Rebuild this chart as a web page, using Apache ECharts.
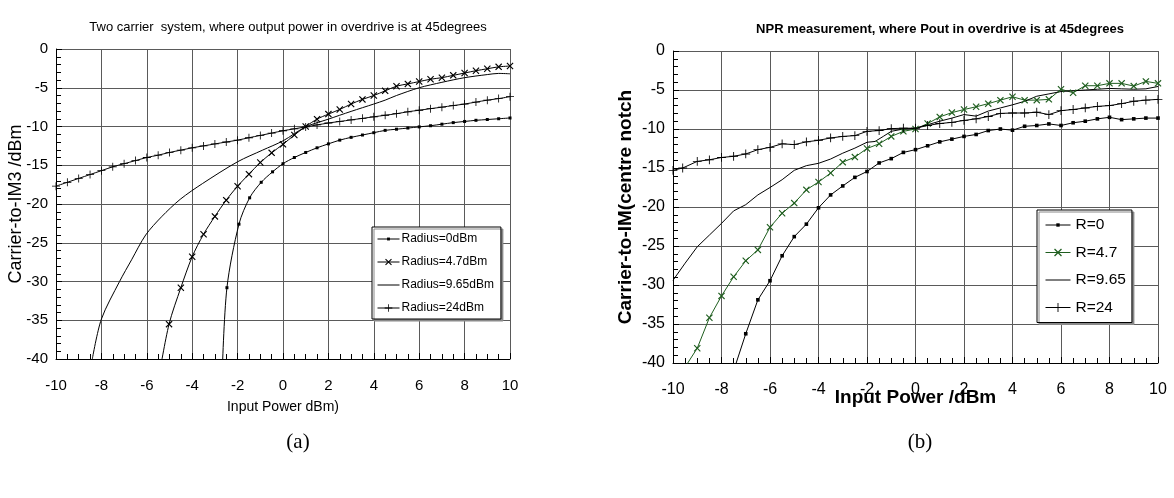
<!DOCTYPE html>
<html>
<head>
<meta charset="utf-8">
<script src="https://cdn.jsdelivr.net/npm/echarts@6/dist/echarts.min.js"></script>
<style>
html,body{margin:0;padding:0;background:#fff;}
#c{width:1174px;height:498px;}
</style>
</head>
<body>
<div id="c"></div>
<script>
// ---------- Chart (a): Two carrier system ----------
const titleA = 'Two carrier  system, where output power in overdrive is at 45degrees';
const xNameA = 'Input Power dBm)';
const yNameA = 'Carrier-to-IM3 /dBm';
const namesA = ['Radius=0dBm', 'Radius=4.7dBm', 'Radius=9.65dBm', 'Radius=24dBm'];

const a0x = [-2.68, -2.47, -1.94, -1.47, -0.96, -0.46, 0, 0.5, 1, 1.5, 2, 2.5, 3, 3.5, 4, 4.5, 5, 5.5, 6, 6.5, 7, 7.5, 8, 8.5, 9, 9.5, 10];
const a0y = [-42, -30.8, -22.6, -19.2, -17.2, -15.85, -14.8, -14.0, -13.35, -12.75, -12.24, -11.76, -11.4, -11.1, -10.8, -10.5, -10.35, -10.2, -10.05, -9.9, -9.7, -9.5, -9.35, -9.2, -9.1, -9.0, -8.9];

const a47x = [-5.45, -5.02, -4.5, -4.0, -3.5, -3.0, -2.5, -2.0, -1.5, -1.0, -0.5, 0, 0.5, 1, 1.5, 2, 2.5, 3, 3.5, 4, 4.5, 5, 5.5, 6, 6.5, 7, 7.5, 8, 8.5, 9, 9.5, 10];
const a47y = [-42, -35.5, -30.8, -26.8, -23.9, -21.6, -19.5, -17.7, -16.15, -14.65, -13.4, -12.3, -11.1, -10.0, -9.05, -8.4, -7.8, -7.1, -6.5, -6.0, -5.4, -4.8, -4.5, -4.2, -3.9, -3.7, -3.4, -3.1, -2.8, -2.55, -2.3, -2.2];

const a965x = [-8.4, -8.0, -7.2, -6.67, -6.05, -5.35, -4.53, -3.54, -2.0, -0.9, 0, 1, 2, 3, 4, 4.5, 5, 6, 7, 8, 9, 9.5, 10];
const a965y = [-40, -34.85, -30, -27.2, -24, -21.65, -19.4, -17.35, -14.55, -13.05, -11.85, -10.05, -9.05, -8.05, -7.1, -6.6, -6.0, -5.0, -4.3, -3.7, -3.3, -3.15, -3.2];

const a24x = [-10, -9.5, -9, -8.5, -8, -7.5, -7, -6.5, -6, -5.5, -5, -4.5, -4, -3.5, -3, -2.5, -2, -1.5, -1, -0.5, 0, 0.5, 1, 1.5, 2, 2.5, 3, 3.5, 4, 4.5, 5, 5.5, 6, 6.5, 7, 7.5, 8, 8.5, 9, 9.5, 10];
const a24y = [-17.7, -17.2, -16.7, -16.2, -15.7, -15.2, -14.8, -14.4, -14.0, -13.7, -13.35, -13.05, -12.75, -12.5, -12.25, -12.0, -11.76, -11.45, -11.15, -10.85, -10.55, -10.3, -10.05, -9.8, -9.55, -9.35, -9.15, -8.95, -8.75, -8.55, -8.35, -8.1, -7.9, -7.7, -7.5, -7.3, -7.1, -6.85, -6.6, -6.4, -6.15];

// ---------- Chart (b): NPR measurement ----------
const titleB = 'NPR measurement, where Pout in overdrive is at 45degrees';
const xNameB = 'Input Power /dBm';
const yNameB = 'Carrier-to-IM(centre notch';
const namesB = ['R=0', 'R=4.7', 'R=9.65', 'R=24'];

const b0x = [-7.5, -7, -6.5, -6, -5.5, -5, -4.5, -4, -3.5, -3, -2.5, -2, -1.5, -1, -0.5, 0, 0.5, 1, 1.5, 2, 2.5, 3, 3.5, 4, 4.5, 5, 5.5, 6, 6.5, 7, 7.5, 8, 8.5, 9, 9.5, 10];
const b0y = [-41, -36.25, -31.9, -29.45, -26.25, -23.8, -22.2, -20.1, -18.45, -17.3, -16.2, -15.45, -14.35, -13.8, -13.0, -12.65, -12.15, -11.65, -11.3, -10.95, -10.7, -10.2, -10.0, -10.15, -9.65, -9.55, -9.35, -9.55, -9.2, -9.0, -8.7, -8.5, -8.8, -8.7, -8.6, -8.6];

const b47x = [-9.6, -9, -8.5, -8, -7.5, -7, -6.5, -6, -5.5, -5, -4.5, -4, -3.5, -3, -2.5, -2, -1.5, -1, -0.5, 0, 0.5, 1, 1.5, 2, 2.5, 3, 3.5, 4, 4.5, 5, 5.5, 6, 6.5, 7, 7.5, 8, 8.5, 9, 9.5, 10];
const b47y = [-41, -38.1, -34.2, -31.4, -28.95, -26.9, -25.5, -22.6, -20.8, -19.5, -17.8, -16.8, -15.65, -14.25, -13.6, -12.5, -11.9, -10.95, -10.3, -10.0, -9.3, -8.45, -7.9, -7.5, -7.15, -6.75, -6.3, -5.87, -6.3, -6.3, -6.2, -4.9, -5.35, -4.45, -4.45, -4.15, -4.15, -4.5, -3.9, -4.15];

const b965x = [-10, -9.5, -9, -8.5, -8, -7.5, -7, -6.5, -6, -5.5, -5, -4.5, -4, -3.5, -3, -2.5, -2, -1.67, -1.33, -1, -0.5, 0, 0.5, 1, 1.5, 2, 2.5, 3, 3.5, 4, 4.5, 5, 5.5, 6, 6.5, 7, 7.5, 8, 8.5, 9, 9.5, 10];
const b965y = [-29.4, -27.2, -25.1, -23.6, -22.1, -20.5, -19.7, -18.45, -17.5, -16.5, -15.3, -14.7, -14.4, -13.85, -13.1, -12.45, -11.7, -11.6, -10.95, -10.3, -10.0, -9.9, -9.45, -9.0, -8.6, -8.15, -8.35, -7.7, -7.3, -6.9, -6.45, -5.8, -5.5, -5.2, -5.1, -5.0, -4.9, -4.8, -4.85, -4.9, -4.85, -4.55];

const b24x = [-10, -9.6, -9, -8.5, -8, -7.5, -7, -6.5, -6, -5.5, -5, -4.5, -4, -3.5, -3, -2.5, -2, -1.5, -1, -0.5, 0, 0.5, 1, 1.5, 2, 2.5, 3, 3.5, 4, 4.5, 5, 5.5, 6, 6.5, 7, 7.5, 8, 8.5, 9, 9.5, 10];
const b24y = [-15.3, -15.0, -14.15, -13.95, -13.65, -13.5, -13.2, -12.65, -12.35, -11.9, -12.0, -11.65, -11.45, -11.15, -10.95, -10.85, -10.3, -10.2, -9.95, -9.9, -9.9, -9.55, -9.3, -9.15, -8.9, -8.7, -8.4, -8.0, -7.95, -7.95, -7.85, -8.15, -7.65, -7.5, -7.3, -7.1, -7.0, -6.75, -6.45, -6.3, -6.2];

const xTicksMin = -10, xTicksMax = 10, xStep = 2;
const yTicksMin = -40, yTicksMax = 0, yStep = 5;

function pairs(xs, ys) { return xs.map((x, i) => [x, ys[i]]); }

// marker shapes (padded so the legend icons stay small)
const SQ_SYM = 'path://M0,0M10,10M3.5,3.5H6.5V6.5H3.5Z';
const X_SYM = 'path://M0,0M10,10M1.5,2.3L2.3,1.5L5,4.2L7.7,1.5L8.5,2.3L5.8,5L8.5,7.7L7.7,8.5L5,5.8L2.3,8.5L1.5,7.7L4.2,5Z';
const P_SYM = 'path://M0,0M10,10M4.6,1H5.4V4.6H9V5.4H5.4V9H4.6V5.4H1V4.6H4.6Z';
const NO_SYM = 'path://M0,0M10,10';

const sans = '"Liberation Sans", Arial, sans-serif';
const serif = '"Liberation Serif", "Times New Roman", serif';

function xAxis(gi, fs, margin, name, nameGap, nameStyle) {
  return {
    type: 'value', gridIndex: gi, min: xTicksMin, max: xTicksMax, interval: xStep,
    name: name, nameLocation: 'middle', nameGap: nameGap, nameTextStyle: nameStyle,
    nameMoveOverlap: false,
    axisLine: { show: true, onZero: false, lineStyle: { color: '#000', width: 1 } },
    axisTick: { show: true, inside: true, length: 6, lineStyle: { color: '#000' } },
    minorTick: { show: true, splitNumber: 4, length: 5, lineStyle: { color: '#000' } },
    axisLabel: { color: '#000', fontSize: fs, fontFamily: sans, margin: margin, formatter: v => String(v) },
    splitLine: { show: true, lineStyle: { color: '#5a5a5a', width: 1 } }
  };
}
function yAxis(gi, fs, name, nameGap, nameStyle) {
  return {
    type: 'value', gridIndex: gi, min: yTicksMin, max: yTicksMax, interval: yStep,
    name: name, nameLocation: 'middle', nameGap: nameGap, nameTextStyle: nameStyle,
    nameMoveOverlap: false,
    axisLine: { show: true, onZero: false, lineStyle: { color: '#000', width: 1 } },
    axisTick: { show: true, inside: true, length: 6, lineStyle: { color: '#000' } },
    minorTick: { show: true, splitNumber: 5, length: 5, lineStyle: { color: '#000' } },
    axisLabel: { color: '#000', fontSize: fs, fontFamily: sans, margin: 8, formatter: v => String(v) },
    splitLine: { show: true, lineStyle: { color: '#5a5a5a', width: 1 } }
  };
}

function lineSeries(name, gi, data, symbol, size, color, smooth) {
  return {
    name: name, type: 'line', xAxisIndex: gi, yAxisIndex: gi, data: data,
    symbol: symbol, symbolSize: size, showSymbol: symbol !== NO_SYM, clip: true,
    symbolKeepAspect: true,
    smooth: smooth,
    lineStyle: { color: color, width: 1 },
    itemStyle: { color: color },
    emphasis: { disabled: true }, animation: false
  };
}

const chart = echarts.init(document.getElementById('c'), null, { renderer: 'canvas' });
chart.setOption({
  backgroundColor: '#fff',
  animation: false,
  title: [
    { text: titleA, left: 283, top: 16, textAlign: 'center',
      textStyle: { fontSize: 13, fontWeight: 'normal', color: '#000', fontFamily: sans } },
    { text: titleB, left: 935, top: 18, textAlign: 'center',
      textStyle: { fontSize: 13, fontWeight: 'bold', color: '#000', fontFamily: sans } },
    { text: '(a)', left: 293, top: 427, textAlign: 'center',
      textStyle: { fontSize: 21, fontWeight: 'normal', color: '#000', fontFamily: serif } },
    { text: '(b)', left: 915, top: 427, textAlign: 'center',
      textStyle: { fontSize: 21, fontWeight: 'normal', color: '#000', fontFamily: serif } }
  ],
  grid: [
    { left: 56, top: 49, width: 454, height: 310, containLabel: false },
    { left: 673, top: 51, width: 485, height: 312, containLabel: false }
  ],
  xAxis: [
    xAxis(0, 15, 19, xNameA, 41, { fontSize: 14, color: '#000', fontFamily: sans }),
    xAxis(1, 16, 19, xNameB, 25, { fontSize: 19, fontWeight: 'bold', color: '#000', fontFamily: sans })
  ],
  yAxis: [
    yAxis(0, 15, yNameA, 31, { fontSize: 18, color: '#000', fontFamily: sans }),
    yAxis(1, 16, yNameB, 38, { fontSize: 19, fontWeight: 'bold', color: '#000', fontFamily: sans })
  ],
  legend: [
    { data: namesA, orient: 'vertical', left: 372, top: 227,
      padding: [6, 7, 5, 5], itemWidth: 22, itemHeight: 12, itemGap: 11,
      backgroundColor: '#fff', borderColor: '#000', borderWidth: 1,
      shadowColor: '#8a8a8a', shadowOffsetX: 2, shadowOffsetY: 2, shadowBlur: 0.01,
      lineStyle: { width: 1 },
      textStyle: { fontSize: 12, color: '#000', fontFamily: sans, padding: [0, 0, 0, -3] },
      selectedMode: false },
    { data: namesB, orient: 'vertical', left: 1037, top: 210,
      padding: [7, 6, 7, 8], itemWidth: 25, itemHeight: 14, itemGap: 11.5,
      backgroundColor: '#fff', borderColor: '#000', borderWidth: 1,
      shadowColor: '#8a8a8a', shadowOffsetX: 2, shadowOffsetY: 2, shadowBlur: 0.01,
      lineStyle: { width: 1 },
      textStyle: { fontSize: 15.5, color: '#000', fontFamily: sans },
      selectedMode: false }
  ],
  series: [
    lineSeries(namesA[0], 0, pairs(a0x, a0y), SQ_SYM, 10, '#000', 0.3),
    lineSeries(namesA[1], 0, pairs(a47x, a47y), X_SYM, 10, '#000', 0.3),
    lineSeries(namesA[2], 0, pairs(a965x, a965y), NO_SYM, 10, '#000', 0.3),
    lineSeries(namesA[3], 0, pairs(a24x, a24y), P_SYM, 10, '#000', 0.3),
    lineSeries(namesB[0], 1, pairs(b0x, b0y), SQ_SYM, 12, '#000', false),
    lineSeries(namesB[1], 1, pairs(b47x, b47y), X_SYM, 10, '#1f5e1f', false),
    lineSeries(namesB[2], 1, pairs(b965x, b965y), NO_SYM, 10, '#000', false),
    lineSeries(namesB[3], 1, pairs(b24x, b24y), P_SYM, 11, '#000', false)
  ]
});
</script>
</body>
</html>
